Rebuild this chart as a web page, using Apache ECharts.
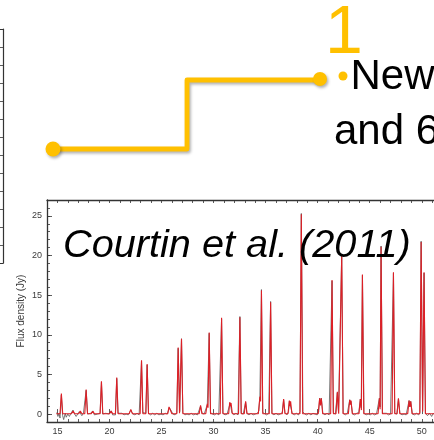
<!DOCTYPE html>
<html>
<head>
<meta charset="utf-8">
<script src="https://cdn.jsdelivr.net/npm/echarts@6/dist/echarts.min.js"></script>
<style>
  html, body { margin: 0; padding: 0; background: #fff; }
  #chart { width: 434px; height: 440px; }
</style>
</head>
<body>
<div id="chart"></div>
<script>
// Tick labels
var xMajorTicks = [15, 20, 25, 30, 35, 40, 45, 50];
var yMajorTicks = [0, 5, 10, 15, 20, 25];

// Observed spectrum: [wavelength, flux density (Jy)]
var observed = [
  [14.95,0.2],[15.05,-0.3],[15.15,0.1],[15.25,-0.5],[15.38,2.4],[15.5,-0.2],[15.6,-0.7],[15.75,0.1],
  [15.85,-0.4],[16.0,0.0],[16.15,-0.3],[16.3,0.1],[16.5,0.5],[16.65,0.0],[16.8,-0.3],[16.95,-0.1],
  [17.1,0.3],[17.2,0.5],[17.35,-0.2],[17.5,0.1],[17.62,-0.1],[17.76,3.0],[17.9,0.0],[18.05,-0.2],
  [18.2,0.1],[18.4,0.4],[18.55,-0.1],[18.7,-0.3],[18.85,0.0],[19.0,-0.2],[19.1,0.1],[19.23,4.0],
  [19.35,0.0],[19.5,-0.2],[19.65,0.1],[19.8,-0.1],[19.95,0.0],[20.16,0.4],[20.3,-0.1],[20.45,0.1],
  [20.58,-0.1],[20.7,4.5],[20.82,0.1],[21.0,-0.1],[21.2,0.1],[21.4,-0.1],[21.6,0.0],[21.8,-0.1],
  [22.05,0.5],[22.25,0.0],[22.45,-0.1],[22.65,0.1],[22.85,-0.1],[22.96,0.1],[23.08,6.7],[23.2,0.2],
  [23.35,0.0],[23.5,0.1],[23.62,6.2],[23.75,0.1],[23.95,-0.1],[24.15,0.1],[24.35,-0.1],[24.55,0.1],
  [24.75,-0.1],[24.95,0.0],[25.15,-0.1],[25.35,0.1],[25.55,0.0],[25.75,0.8],[25.9,0.5],[26.1,0.0],
  [26.3,-0.1],[26.47,0.2],[26.6,8.3],[26.75,0.3],[26.92,9.5],[27.05,0.2],[27.25,-0.1],[27.45,0.0],
  [27.65,-0.1],[27.85,0.1],[28.05,-0.1],[28.25,0.0],[28.45,-0.1],[28.6,0.1],[28.75,1.0],[28.9,0.1],
  [29.1,0.0],[29.25,0.2],[29.4,1.2],[29.58,10.2],[29.7,0.2],[29.9,0.0],[30.1,-0.1],[30.3,0.1],
  [30.5,-0.1],[30.65,0.1],[30.77,12.0],[30.9,0.1],[31.1,-0.1],[31.3,0.0],[31.45,0.1],[31.6,1.4],
  [31.75,0.2],[31.95,-0.1],[32.15,0.1],[32.35,-0.1],[32.45,0.1],[32.53,12.3],[32.65,0.1],[32.85,0.0],
  [33.0,0.2],[33.08,1.5],[33.2,0.1],[33.4,-0.1],[33.6,0.1],[33.8,-0.1],[34.0,0.0],[34.2,0.1],
  [34.35,0.4],[34.45,2.2],[34.6,15.7],[34.72,0.2],[34.9,0.0],[35.1,-0.1],[35.3,0.1],[35.48,14.2],
  [35.6,0.1],[35.8,-0.1],[36.0,0.1],[36.2,-0.1],[36.4,0.0],[36.6,0.2],[36.73,1.8],[36.85,0.2],
  [37.05,-0.1],[37.2,0.3],[37.28,1.6],[37.4,1.5],[37.55,0.1],[37.75,-0.1],[37.95,0.1],[38.15,-0.1],
  [38.3,0.3],[38.43,25.3],[38.58,0.3],[38.75,0.0],[38.95,-0.1],[39.15,0.1],[39.35,-0.1],[39.55,0.1],
  [39.75,0.0],[39.95,-0.1],[40.1,0.3],[40.19,2.0],[40.27,1.2],[40.35,2.0],[40.5,0.1],[40.7,-0.1],
  [40.9,0.1],[41.1,-0.1],[41.25,0.1],[41.38,16.8],[41.5,0.2],[41.7,0.0],[41.89,2.7],[42.0,0.2],
  [42.15,0.1],[42.31,20.1],[42.45,0.1],[42.65,-0.1],[42.85,0.1],[43.0,0.2],[43.08,1.8],[43.14,1.3],
  [43.2,1.6],[43.35,0.0],[43.55,-0.1],[43.75,0.1],[43.95,0.2],[44.1,1.9],[44.18,0.8],[44.3,17.5],
  [44.45,0.1],[44.65,-0.1],[44.85,0.0],[45.05,-0.1],[45.25,0.1],[45.45,-0.1],[45.65,0.0],[45.8,0.2],
  [45.93,2.0],[46.0,0.9],[46.09,21.2],[46.22,0.1],[46.4,-0.1],[46.6,0.1],[46.8,-0.1],[47.0,0.0],
  [47.15,0.1],[47.28,17.8],[47.4,0.1],[47.6,0.0],[47.76,1.9],[47.9,0.1],[48.1,-0.1],[48.3,0.0],
  [48.5,-0.1],[48.65,0.1],[48.78,1.7],[48.86,0.9],[48.94,1.6],[49.1,0.0],[49.3,-0.1],[49.5,0.1],
  [49.7,-0.1],[49.82,0.2],[49.94,21.8],[50.08,0.4],[50.22,17.8],[50.35,0.1],[50.55,-0.2],[50.75,0.1],
  [50.95,-0.3],[51.1,0.1],[51.3,-0.2],[51.5,0.0]
];

// Model spectrum: [wavelength, flux density (Jy)]
var model = [
  [14.9,0.05],[15.25,0.05],[15.38,2.6],[15.51,0.05],[16.35,0.05],[16.5,0.4],[16.65,0.05],
  [17.05,0.05],[17.2,0.4],[17.35,0.05],[17.63,0.05],[17.76,3.1],[17.89,0.05],[18.25,0.05],
  [18.4,0.35],[18.55,0.05],[19.1,0.05],[19.23,4.15],[19.36,0.05],[20.01,0.05],[20.16,0.4],
  [20.31,0.05],[20.57,0.05],[20.7,4.6],[20.83,0.05],[21.9,0.05],[22.05,0.6],[22.2,0.05],
  [22.95,0.05],[23.08,6.8],[23.21,0.05],[23.49,0.05],[23.62,6.3],[23.75,0.05],[25.6,0.05],
  [25.72,0.9],[25.8,0.7],[25.88,0.8],[26.0,0.05],[26.47,0.05],[26.6,8.4],[26.73,0.1],[26.79,0.1],
  [26.92,9.5],[27.05,0.05],[28.62,0.05],[28.75,1.1],[28.88,0.05],[29.25,0.05],[29.4,1.3],
  [29.47,0.8],[29.58,10.3],[29.71,0.05],[30.64,0.05],[30.77,12.15],[30.9,0.05],[31.45,0.05],
  [31.55,1.5],[31.62,1.0],[31.68,1.4],[31.8,0.05],[32.4,0.05],[32.53,12.2],[32.66,0.05],
  [32.95,0.05],[33.08,1.6],[33.21,0.05],[34.3,0.05],[34.45,2.2],[34.52,1.6],[34.6,15.6],
  [34.73,0.05],[35.35,0.05],[35.48,14.1],[35.61,0.05],[36.6,0.05],[36.73,1.9],[36.86,0.05],
  [37.15,0.05],[37.28,1.7],[37.34,1.0],[37.4,1.6],[37.53,0.05],[38.3,0.05],[38.43,25.2],
  [38.56,0.05],[40.05,0.05],[40.19,2.0],[40.27,1.1],[40.35,2.0],[40.48,0.05],[41.25,0.05],
  [41.38,16.9],[41.51,0.05],[41.76,0.05],[41.89,2.8],[42.02,0.05],[42.18,0.05],[42.31,20.05],
  [42.44,0.05],[42.95,0.05],[43.08,1.8],[43.14,1.2],[43.2,1.7],[43.33,0.05],[43.97,0.05],
  [44.1,1.9],[44.2,0.5],[44.3,17.6],[44.43,0.05],[45.8,0.05],[45.93,2.0],[46.0,0.6],[46.09,21.1],
  [46.22,0.05],[47.15,0.05],[47.28,17.9],[47.41,0.05],[47.63,0.05],[47.76,2.0],[47.89,0.05],
  [48.65,0.05],[48.78,1.7],[48.86,0.9],[48.94,1.6],[49.07,0.05],[49.81,0.05],[49.94,21.7],
  [50.08,0.3],[50.22,17.9],[50.35,0.05],[51.5,0.05]
];

var FONT = '"Liberation Sans", Arial, sans-serif';
var AXIS = '#333';
var GOLD = '#FFC000';

var chart = echarts.init(document.getElementById('chart'), null, { renderer: 'canvas' });

function isMajor(list) {
  return function (v) { return list.indexOf(Math.round(v * 1000) / 1000) >= 0 ? String(v) : ''; };
}

chart.setOption({
  animation: false,
  backgroundColor: '#fff',
  grid: [
    { left: 47, top: 200, width: 406, height: 222, containLabel: false, outerBoundsMode: 'none' },
    // frame edge of the neighbouring panel on the left
    { left: -100, top: 29, width: 103, height: 234, containLabel: false, outerBoundsMode: 'none' }
  ],
  xAxis: [
    {
      type: 'value', gridIndex: 0, position: 'bottom', min: 14, max: 53, interval: 1,
      axisLine: { show: true, onZero: false, lineStyle: { color: AXIS, width: 1.3 } },
      axisTick: { show: true, inside: true, length: 3, lineStyle: { color: AXIS, width: 0.8 } },
      axisLabel: { interval: 0, formatter: isMajor(xMajorTicks), color: '#3a3a3a', fontSize: 9, fontFamily: FONT, margin: 5 },
      splitLine: { show: false }
    },
    {
      type: 'value', gridIndex: 0, position: 'bottom', min: 14, max: 53,
      axisLine: { show: false },
      axisTick: { show: true, inside: true, length: 5, customValues: xMajorTicks, lineStyle: { color: AXIS, width: 0.8 } },
      axisLabel: { show: false },
      splitLine: { show: false }
    },
    {
      type: 'value', gridIndex: 0, position: 'top', min: 14, max: 53, interval: 1,
      axisLine: { show: true, onZero: false, lineStyle: { color: AXIS, width: 1.3 } },
      axisTick: { show: true, inside: true, length: 3, lineStyle: { color: AXIS, width: 0.8 } },
      axisLabel: { show: false },
      splitLine: { show: false }
    },
    {
      type: 'value', gridIndex: 1, position: 'bottom', min: 0, max: 1,
      axisLine: { show: true, onZero: false, lineStyle: { color: AXIS, width: 1.2 } },
      axisTick: { show: false }, axisLabel: { show: false }, splitLine: { show: false }
    },
    {
      type: 'value', gridIndex: 1, position: 'top', min: 0, max: 1,
      axisLine: { show: true, onZero: false, lineStyle: { color: AXIS, width: 1.2 } },
      axisTick: { show: false }, axisLabel: { show: false }, splitLine: { show: false }
    }
  ],
  yAxis: [
    {
      type: 'value', gridIndex: 0, position: 'left', min: -1, max: 27, interval: 1,
      name: 'Flux density (Jy)', nameLocation: 'middle', nameGap: 21, nameRotate: 90,
      nameMoveOverlap: false,
      nameTextStyle: { color: '#3a3a3a', fontSize: 10, fontFamily: FONT },
      axisLine: { show: true, onZero: false, lineStyle: { color: AXIS, width: 1.3 } },
      axisTick: { show: true, inside: true, length: 3, lineStyle: { color: AXIS, width: 0.8 } },
      axisLabel: { interval: 0, formatter: isMajor(yMajorTicks), color: '#3a3a3a', fontSize: 9, fontFamily: FONT, margin: 5 },
      splitLine: { show: false }
    },
    {
      type: 'value', gridIndex: 0, position: 'left', min: -1, max: 27,
      axisLine: { show: false },
      axisTick: { show: true, inside: true, length: 5, customValues: yMajorTicks, lineStyle: { color: AXIS, width: 0.8 } },
      axisLabel: { show: false },
      splitLine: { show: false }
    },
    {
      type: 'value', gridIndex: 1, position: 'right', min: 0, max: 13, interval: 1,
      axisLine: { show: true, onZero: false, lineStyle: { color: AXIS, width: 1.2 } },
      axisTick: { show: true, inside: true, length: 3, lineStyle: { color: AXIS, width: 0.8 } },
      axisLabel: { show: false },
      splitLine: { show: false }
    }
  ],
  series: [
    {
      name: 'Observed', type: 'line', xAxisIndex: 0, yAxisIndex: 0,
      data: observed, showSymbol: false, silent: true, smooth: false,
      lineStyle: { color: '#555', width: 0.8 }
    },
    {
      name: 'Model', type: 'line', xAxisIndex: 0, yAxisIndex: 0,
      data: model, showSymbol: false, silent: true, smooth: false,
      lineStyle: { color: '#dd1f26', width: 1.1 }
    }
  ],
  graphic: [
    {
      type: 'polyline', z: 10,
      shape: { points: [[53, 149], [187, 149], [187, 80], [320, 80]] },
      style: {
        stroke: GOLD, lineWidth: 4.8, lineJoin: 'round', fill: null,
        shadowBlur: 3, shadowColor: 'rgba(0,0,0,0.3)', shadowOffsetX: 1.5, shadowOffsetY: 2
      }
    },
    {
      type: 'circle', z: 11, shape: { cx: 53, cy: 149, r: 7.5 },
      style: { fill: GOLD, shadowBlur: 3, shadowColor: 'rgba(0,0,0,0.3)', shadowOffsetX: 1.5, shadowOffsetY: 2 }
    },
    {
      type: 'circle', z: 11, shape: { cx: 320, cy: 79, r: 7 },
      style: { fill: GOLD, shadowBlur: 3, shadowColor: 'rgba(0,0,0,0.3)', shadowOffsetX: 1.5, shadowOffsetY: 2 }
    },
    {
      type: 'circle', z: 11, shape: { cx: 343, cy: 76, r: 4.5 },
      style: { fill: GOLD }
    },
    {
      type: 'text', z: 12,
      style: { text: '1', x: 325, y: 34, font: '68px ' + FONT, fill: GOLD, verticalAlign: 'middle', align: 'left' }
    },
    {
      type: 'text', z: 12,
      style: { text: 'New', x: 350.5, y: 77, font: '42px ' + FONT, fill: '#000', verticalAlign: 'middle', align: 'left' }
    },
    {
      type: 'text', z: 12,
      style: { text: 'and 6', x: 334, y: 132, font: '42px ' + FONT, fill: '#000', verticalAlign: 'middle', align: 'left' }
    },
    {
      type: 'text', z: 12,
      style: { text: 'Courtin et al. (2011)', x: 63, y: 246, font: 'italic 39.7px ' + FONT, fill: '#000', verticalAlign: 'middle', align: 'left' }
    }
  ]
});
</script>
</body>
</html>
